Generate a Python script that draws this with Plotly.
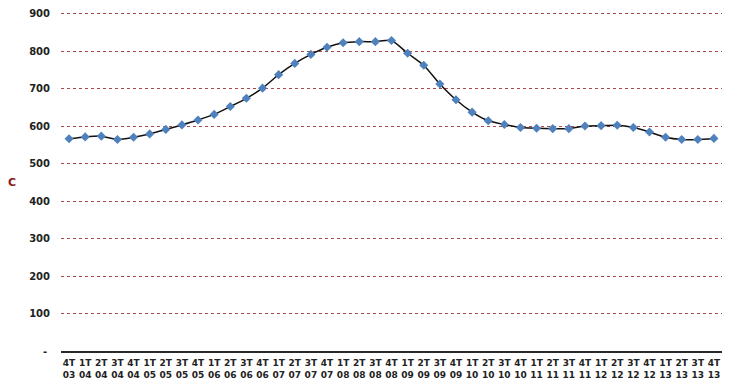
import plotly.graph_objects as go

quarters = ["4T 03"] + [f"{q}T {y:02d}" for y in range(4, 14) for q in range(1, 5)]
tick_labels = [q.replace(" ", "<br>") for q in quarters]
values = [567, 572, 574, 565, 571, 580, 592, 604, 617, 632, 653, 675, 702, 738, 768,
          792, 811, 823, 826, 826, 829, 795, 763, 713, 671, 638, 615, 605, 597, 595,
          594, 594, 601, 602, 603, 597, 585, 571, 565, 565, 568]
y_ticks = [0, 100, 200, 300, 400, 500, 600, 700, 800, 900]
y_tick_text = ["-", "100", "200", "300", "400", "500", "600", "700", "800", "900"]

fig = go.Figure()
fig.add_trace(go.Scatter(
    x=list(range(len(values))), y=values, mode="lines+markers",
    line=dict(color="#111111", width=1.5, shape="spline", smoothing=0.6),
    marker=dict(symbol="diamond", size=7, color="#4F81BD"),
    showlegend=False,
))

fig.update_layout(
    width=740, height=389,
    margin=dict(l=61, r=18, t=12, b=33),
    paper_bgcolor="white", plot_bgcolor="white",
    xaxis=dict(
        tickmode="array", tickvals=list(range(len(values))), ticktext=tick_labels,
        range=[-0.5, len(values) - 0.5], showgrid=False, zeroline=False,
        showline=False, ticks="", tickangle=0, automargin=False,
        tickfont=dict(family="DejaVu Sans", size=9, color="#222222", weight="bold"),
    ),
    yaxis=dict(
        range=[-12, 905], tickmode="array", tickvals=y_ticks[1:], ticktext=y_tick_text[1:],
        showgrid=True, gridcolor="#A84848", griddash="dot", gridwidth=1,
        zeroline=True, zerolinecolor="#2a2a2a", zerolinewidth=1.5,
        showline=False, ticks="", ticklabelstandoff=10, automargin=False,
        tickfont=dict(family="DejaVu Sans", size=10, color="#222222", weight="bold"),
    ),
    annotations=[
        dict(text="C", xref="paper", yref="paper", x=-0.083, y=0.505, showarrow=False,
             font=dict(family="DejaVu Sans", size=11, color="#8B1A1A", weight="bold")),
        dict(text=y_tick_text[0], xref="paper", yref="y", x=0, y=y_ticks[0], xanchor="right",
             xshift=-12, showarrow=False,
             font=dict(family="DejaVu Sans", size=10, color="#222222", weight="bold")),
    ],
)
fig.write_html("out.html")
